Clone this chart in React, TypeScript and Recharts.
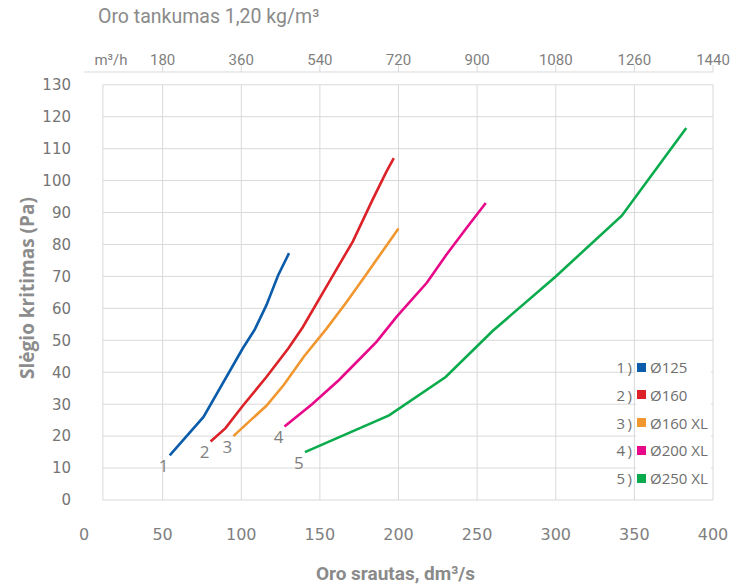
import React from 'react';
import { LineChart, Line, XAxis, YAxis, ReferenceLine, Legend, Label } from 'recharts';

// ---- data ----
const seriesNames = ['Ø125', 'Ø160', 'Ø160 XL', 'Ø200 XL', 'Ø250 XL'];
const seriesColors = ['#0b5cab', '#dc2128', '#f0972f', '#e8088a', '#0aab4c'];

const flow125 = [54.5, 76, 101, 108.5, 116, 123.4, 130.4];
const dp125 = [14, 26, 47.5, 53.3, 61, 70.3, 77.3];

const flow160 = [80.5, 90, 101, 116, 130, 139, 155, 171, 183, 192, 197];
const dp160 = [18.3, 22.5, 29.5, 38.5, 47.5, 54, 67.5, 81, 93.5, 102.5, 107];

const flow160xl = [95, 106, 116, 127, 140, 154, 167, 180, 200];
const dp160xl = [20, 25, 29.5, 36, 45, 53.5, 62, 71, 85];

const flow200xl = [127.5, 145, 162, 175, 186, 199, 218, 230, 243, 255.5];
const dp200xl = [23, 30, 37.5, 44, 49.5, 57.5, 68, 76.5, 85, 93];

const flow250xl = [140.5, 194, 230, 260, 300, 342, 383];
const dp250xl = [15, 26.5, 38.5, 53, 70, 89, 116.5];

const xTicks = [0, 50, 100, 150, 200, 250, 300, 350, 400];
const gridX = [50, 100, 150, 200, 250, 300, 350, 400];
const yTicks = [0, 10, 20, 30, 40, 50, 60, 70, 80, 90, 100, 110, 120, 130];
const M3H_PER_DM3S = 3.6;

const FRAME_LEFT = 12;
const X_MAX = 400;
const Y_MAX = 130;

const toPoints = (xs: number[], ys: number[]) => xs.map((x, i) => ({ x, y: ys[i] }));
const seriesData = [
  toPoints(flow125, dp125),
  toPoints(flow160, dp160),
  toPoints(flow160xl, dp160xl),
  toPoints(flow200xl, dp200xl),
  toPoints(flow250xl, dp250xl),
];

const GRID = '#d9d9d9';
const GRAY = '#7f7f7f';

const makeStartLabel = (n: number) => (props: any) => {
  const { x, y, index } = props;
  if (index !== 0) return null;
  return (
    <text
      x={x - 6}
      y={y + 10}
      textAnchor="middle"
      dominantBaseline="central"
      fontFamily="Open Sans"
      fontSize={17}
      fill={GRAY}
    >
      {n}
    </text>
  );
};

const renderLegend = (props: any) => {
  const payload = props.payload || [];
  return (
    <div style={{ position: 'relative', width: 140, height: 150 }}>
      <div style={{ position: 'absolute', left: 36, top: -5, width: 75, height: 142, background: '#fff' }} />
      {payload.map((p: any, i: number) => (
        <div
          key={i}
          style={{
            position: 'absolute',
            left: 0,
            top: i * 27.8,
            height: 20,
            display: 'flex',
            alignItems: 'center',
            fontFamily: 'Open Sans',
            fontSize: 15,
            color: '#6e6e6e',
            whiteSpace: 'nowrap',
          }}
        >
          <span style={{ width: 32, textAlign: 'right' }}>{i + 1}{'\u2009'})</span>
          <span style={{ display: 'inline-block', width: 9, height: 9, background: p.color, marginLeft: 5 }} />
          <span style={{ marginLeft: 4 }}>{p.value}</span>
        </div>
      ))}
    </div>
  );
};

export default function App() {
  return (
    <div style={{ position: 'absolute', left: 0, top: 0, width: 740, height: 584, background: '#fff' }}>
      <div
        style={{
          position: 'absolute',
          left: 98,
          top: 5,
          fontFamily: 'Roboto',
          fontSize: 19.5,
          color: '#8a8a8a',
          whiteSpace: 'nowrap',
        }}
      >
        Oro tankumas 1,20 kg/m³
      </div>
      <LineChart width={740} height={584} margin={{ top: 0, right: 27, bottom: 0, left: 0 }}>
        <XAxis
          xAxisId={0}
          type="number"
          dataKey="x"
          domain={[0, X_MAX]}
          ticks={xTicks}
          allowDataOverflow
          axisLine={false}
          tickLine={false}
          tickSize={0}
          tickMargin={29}
          height={84}
          tick={{ fontFamily: 'DejaVu Sans', fontSize: 16, fill: GRAY }}
        >
          <Label
            value="Oro srautas, dm³/s"
            position="insideBottom"
            offset={4}
            dx={-3}
            style={{ fontFamily: 'Roboto', fontWeight: 700, fontSize: 19, fill: '#8a8a8a' }}
          />
        </XAxis>
        <XAxis
          xAxisId="top"
          orientation="top"
          type="number"
          dataKey="x"
          domain={[0, X_MAX]}
          ticks={gridX}
          allowDataOverflow
          height={72}
          axisLine={{ stroke: GRID }}
          tickLine={{ stroke: GRID }}
          tickSize={7}
          tickMargin={0}
          tickFormatter={(v: number) => String(Math.round(v * M3H_PER_DM3S))}
          tick={{ fontFamily: 'Roboto', fontSize: 15, fill: GRAY }}
        >
          <Label
            content={(p: any) => (
              <text
                x={p.viewBox.x + 27}
                y={p.viewBox.y + p.viewBox.height - 7}
                textAnchor="middle"
                fontFamily="Roboto"
                fontSize={15}
                fill={GRAY}
              >
                m³/h
              </text>
            )}
          />
        </XAxis>
        <YAxis
          type="number"
          domain={[0, 134]}
          ticks={yTicks}
          allowDataOverflow
          width={84}
          axisLine={false}
          tickLine={false}
          tickSize={0}
          tickMargin={13}
          tick={{ fontFamily: 'DejaVu Sans', fontSize: 15, fill: '#757575' }}
        >
          <Label
            content={(p: any) => {
              const cx = p.viewBox.x + 27;
              const cy = p.viewBox.y + p.viewBox.height / 2 + 2;
              return (
                <text
                  x={cx}
                  y={cy}
                  transform={`rotate(-90, ${cx}, ${cy})`}
                  textAnchor="middle"
                  dominantBaseline="central"
                  fontFamily="Open Sans"
                  fontWeight={700}
                  fontSize={19}
                  fill="#8c8c8c"
                >
                  Slėgio kritimas (Pa)
                </text>
              );
            }}
          />
        </YAxis>

        {yTicks.map((v) => (
          <ReferenceLine
            key={'h' + v}
            segment={[{ x: FRAME_LEFT, y: v }, { x: X_MAX, y: v }]}
            stroke={GRID}
            strokeWidth={1}
          />
        ))}
        {gridX.map((v) => (
          <ReferenceLine
            key={'v' + v}
            segment={[{ x: v, y: 0 }, { x: v, y: Y_MAX }]}
            stroke={GRID}
            strokeWidth={1}
          />
        ))}
        <ReferenceLine
          segment={[{ x: FRAME_LEFT, y: 0 }, { x: FRAME_LEFT, y: Y_MAX }]}
          stroke={GRID}
          strokeWidth={1}
        />

        {seriesData.map((d, i) => (
          <Line
            key={seriesNames[i]}
            data={d}
            dataKey="y"
            name={seriesNames[i]}
            type="linear"
            stroke={seriesColors[i]}
            strokeWidth={2.6}
            dot={false}
            activeDot={false}
            isAnimationActive={false}
            label={makeStartLabel(i + 1)}
          />
        ))}

        <Legend
          layout="vertical"
          align="center"
          verticalAlign="middle"
          content={renderLegend}
          wrapperStyle={{ left: 600, top: 357, width: 140, height: 150 }}
        />
      </LineChart>
    </div>
  );
}
